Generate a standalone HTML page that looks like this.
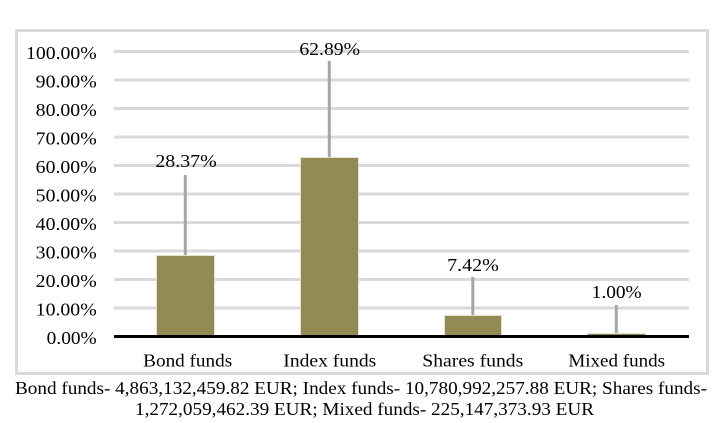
<!DOCTYPE html>
<html>
<head>
<meta charset="utf-8">
<style>
  html,body{margin:0;padding:0;background:#fff;}
  svg{display:block;}
  text{font-family:"Liberation Serif","DejaVu Serif",serif;font-size:18px;fill:#000;}
</style>
</head>
<body>
<svg width="728" height="423" viewBox="0 0 728 423" xmlns="http://www.w3.org/2000/svg">
  <rect x="0" y="0" width="728" height="423" fill="#fff"/>
  <!-- chart border -->
  <rect x="16.5" y="30.5" width="691" height="343" fill="#fff" stroke="#d9d9d9" stroke-width="3"/>

  <!-- gridlines -->
  <g stroke="#d9d9d9" stroke-width="3">
    <line x1="114" y1="51.5" x2="689" y2="51.5"/>
    <line x1="114" y1="80" x2="689" y2="80"/>
    <line x1="114" y1="108.5" x2="689" y2="108.5"/>
    <line x1="114" y1="137" x2="689" y2="137"/>
    <line x1="114" y1="165.5" x2="689" y2="165.5"/>
    <line x1="114" y1="194" x2="689" y2="194"/>
    <line x1="114" y1="222.5" x2="689" y2="222.5"/>
    <line x1="114" y1="251" x2="689" y2="251"/>
    <line x1="114" y1="279.5" x2="689" y2="279.5"/>
    <line x1="114" y1="308" x2="689" y2="308"/>
  </g>

  <!-- y axis labels -->
  <g text-anchor="end">
    <text x="96.7" y="59" textLength="70.7" lengthAdjust="spacingAndGlyphs">100.00%</text>
    <text x="96.7" y="87.5" textLength="61" lengthAdjust="spacingAndGlyphs">90.00%</text>
    <text x="96.7" y="116" textLength="61" lengthAdjust="spacingAndGlyphs">80.00%</text>
    <text x="96.7" y="144.5" textLength="61" lengthAdjust="spacingAndGlyphs">70.00%</text>
    <text x="96.7" y="173" textLength="61" lengthAdjust="spacingAndGlyphs">60.00%</text>
    <text x="96.7" y="201.5" textLength="61" lengthAdjust="spacingAndGlyphs">50.00%</text>
    <text x="96.7" y="230" textLength="61" lengthAdjust="spacingAndGlyphs">40.00%</text>
    <text x="96.7" y="258.5" textLength="61" lengthAdjust="spacingAndGlyphs">30.00%</text>
    <text x="96.7" y="287" textLength="61" lengthAdjust="spacingAndGlyphs">20.00%</text>
    <text x="96.7" y="315.5" textLength="61" lengthAdjust="spacingAndGlyphs">10.00%</text>
    <text x="96.7" y="344" textLength="50" lengthAdjust="spacingAndGlyphs">0.00%</text>
  </g>

  <!-- bars -->
  <g fill="#948a54" stroke="#e4e1cf" stroke-width="1">
    <rect x="156.5" y="255.5" width="58" height="81"/>
    <rect x="300.5" y="157.5" width="58" height="179"/>
    <rect x="444.5" y="315.5" width="57" height="21"/>
    <rect x="587.5" y="333.5" width="58" height="3"/>
  </g>

  <!-- error bars -->
  <g stroke="#a6a6a6" stroke-width="3">
    <line x1="185.3" y1="175" x2="185.3" y2="255"/>
    <line x1="329.3" y1="61" x2="329.3" y2="157"/>
    <line x1="472.8" y1="277" x2="472.8" y2="315"/>
    <line x1="616.3" y1="305" x2="616.3" y2="333"/>
  </g>

  <!-- axis line -->
  <line x1="114" y1="336.5" x2="689" y2="336.5" stroke="#000" stroke-width="3"/>

  <!-- data labels -->
  <g text-anchor="middle">
    <text x="186" y="167" textLength="61.3" lengthAdjust="spacingAndGlyphs">28.37%</text>
    <text x="329.7" y="55" textLength="60.7" lengthAdjust="spacingAndGlyphs">62.89%</text>
    <text x="473" y="271" textLength="51.7" lengthAdjust="spacingAndGlyphs">7.42%</text>
    <text x="616.7" y="298" textLength="50" lengthAdjust="spacingAndGlyphs">1.00%</text>
  </g>

  <!-- category labels -->
  <g text-anchor="middle">
    <text x="187.7" y="366.5" textLength="89" lengthAdjust="spacingAndGlyphs">Bond funds</text>
    <text x="329.8" y="366.5" textLength="93" lengthAdjust="spacingAndGlyphs">Index funds</text>
    <text x="472.8" y="366.5" textLength="101" lengthAdjust="spacingAndGlyphs">Shares funds</text>
    <text x="616.7" y="366.5" textLength="96.7" lengthAdjust="spacingAndGlyphs">Mixed funds</text>
  </g>

  <!-- caption -->
  <text x="15" y="394" textLength="692" lengthAdjust="spacingAndGlyphs">Bond funds- 4,863,132,459.82 EUR; Index funds- 10,780,992,257.88 EUR; Shares funds-</text>
  <text x="135" y="415" textLength="459" lengthAdjust="spacingAndGlyphs">1,272,059,462.39 EUR; Mixed funds- 225,147,373.93 EUR</text>
</svg>
</body>
</html>
